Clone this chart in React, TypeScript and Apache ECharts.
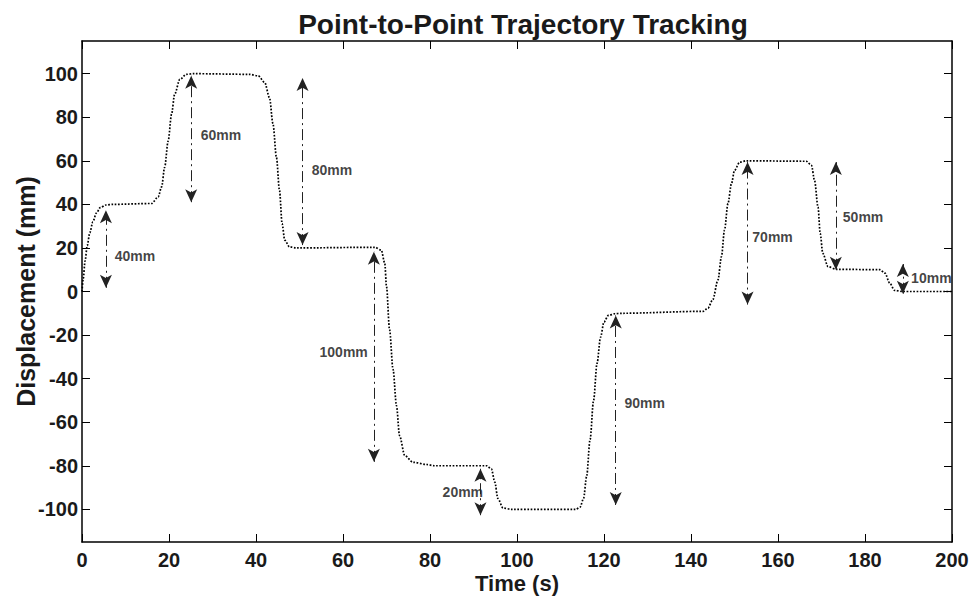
import React, { useEffect, useRef } from "react";
import * as echarts from "echarts";

// Trajectory samples: time (s) and displacement (mm)
const timeS = [
  0, 0.3, 0.7, 1.2, 1.8, 2.5, 3.3, 4.2, 5.5, 7,
  16, 17.5, 18.3, 19, 19.8, 20.6, 21.3, 22.5, 24, 25.6,
  38.5, 40.5, 42, 43.1, 43.9, 44.7, 45.4, 46, 46.6, 47.7, 49.2,
  67.3, 68.8, 69.6, 70, 70.7, 71.5, 72.3, 73, 74.2, 76.1, 79.2, 81,
  93, 94.1, 94.9, 95.6, 96.8, 98.7,
  113.5, 114.5, 115.3, 116, 116.8, 117.6, 118.4, 119.2, 120, 121, 122.5, 124,
  142.8, 143.9, 145, 146.2, 147, 147.7, 148.5, 149.3, 150, 151.2, 152.7,
  166.5, 167.7, 168.4, 169.2, 169.7, 170.3, 171.5, 173.4,
  183.4, 184.6, 185.7, 186.8, 188.7, 200,
];
const displacementMm = [
  0, 6, 14, 21, 27, 32, 36, 38.5, 39.7, 40,
  40.4, 43.4, 48, 57, 69, 81.5, 90.6, 97.4, 99.7, 100,
  99.7, 99, 96, 89, 77, 61.6, 46.4, 31.2, 23.6, 20.5, 20,
  20.3, 19, 13, 2.3, -17.5, -35.7, -52.5, -66.2, -75.3, -78.4, -79.4, -80,
  -80, -81.4, -87.5, -95, -99.4, -100,
  -100, -99, -95, -85, -68, -50, -33, -21, -14, -11, -10.2, -10,
  -9.1, -7.6, -3.8, 5.3, 16, 28.2, 40.4, 49.5, 55.6, 59.4, 60,
  59.8, 57.9, 51, 38.8, 26.7, 17.5, 11.4, 10.2,
  10, 8.4, 3.8, 0.5, 0, 0,
];

// Double-headed step annotations (arrow tips)
const arrowTime = [5.5, 25.1, 50.7, 67.1, 91.6, 122.7, 153, 173.3, 188.7];
const arrowLow = [1.7, 41, 21.3, -78.2, -102.7, -98, -6, 10, -1];
const arrowHigh = [37.3, 99, 98, 18.3, -81.4, -11, 59.4, 59.4, 12.6];

const stepLabels = ["40mm", "60mm", "80mm", "100mm", "20mm", "90mm", "70mm", "50mm", "10mm"];
const labelTime = [7.5, 27.3, 52.8, 65.7, 92.2, 124.7, 154.1, 174.9, 190.6];
const labelValue = [16.3, 72, 56, -28, -92, -51, 25, 34, 6.4];
const labelRightAligned = [false, false, false, true, true, false, false, false, false];

const yTicks = [-100, -80, -60, -40, -20, 0, 20, 40, 60, 80, 100];

const FONT = "'Liberation Sans', Arial, sans-serif";
const INK = "#1a1a1a";

export default function App() {
  const ref = useRef<HTMLDivElement>(null);

  useEffect(() => {
    if (!ref.current) return;
    const chart = echarts.init(ref.current, undefined, { renderer: "svg" });

    const tickStyle = { show: true, inside: true, length: 8, lineStyle: { color: "#000", width: 1 } };
    const lineStyle = { show: true, onZero: false, lineStyle: { color: "#000", width: 1.5 } };
    const xBase = { type: "value" as const, min: 0, max: 200, interval: 20, splitLine: { show: false } };
    const yBase = { type: "value" as const, min: -115, max: 115, splitLine: { show: false } };

    chart.setOption({
      animation: false,
      backgroundColor: "#fff",
      title: {
        text: "Point-to-Point Trajectory Tracking",
        left: 518,
        top: 5,
        textAlign: "center",
        textStyle: { fontFamily: FONT, fontWeight: "bold", fontSize: 28, color: INK },
      },
      grid: { left: 82, right: 20, top: 41, bottom: 57, containLabel: false, outerBoundsMode: "none" },
      xAxis: [
        {
          ...xBase,
          position: "bottom",
          name: "Time (s)",
          nameLocation: "middle",
          nameGap: 30,
          nameMoveOverlap: false,
          nameTextStyle: { fontFamily: FONT, fontWeight: "bold", fontSize: 22, color: INK },
          axisLine: lineStyle,
          axisTick: tickStyle,
          axisLabel: { show: true, margin: 8, fontFamily: FONT, fontWeight: "bold", fontSize: 20, color: INK },
        },
        {
          ...xBase,
          position: "top",
          axisLine: lineStyle,
          axisTick: tickStyle,
          axisLabel: { show: false },
        },
      ],
      yAxis: [
        {
          ...yBase,
          position: "left",
          name: "Displacement (mm)",
          nameLocation: "middle",
          nameGap: 44,
          nameMoveOverlap: false,
          nameRotate: 90,
          nameTextStyle: { fontFamily: FONT, fontWeight: "bold", fontSize: 25, color: INK },
          axisLine: lineStyle,
          axisTick: { ...tickStyle, customValues: yTicks },
          axisLabel: {
            show: true,
            margin: 4,
            customValues: yTicks,
            fontFamily: FONT,
            fontWeight: "bold",
            fontSize: 20,
            color: INK,
          },
        },
        {
          ...yBase,
          position: "right",
          axisLine: lineStyle,
          axisTick: { ...tickStyle, customValues: yTicks },
          axisLabel: { show: false, customValues: yTicks },
        },
      ],
      series: [
        {
          type: "line",
          xAxisIndex: 0,
          yAxisIndex: 0,
          data: timeS.map((t, i) => [t, displacementMm[i]]),
          showSymbol: false,
          smooth: 0.3,
          smoothMonotone: "x",
          lineStyle: { color: "#000", width: 1.7, type: [1.7, 1.6] },
          silent: true,
          markLine: {
            silent: true,
            symbol: ["arrow", "arrow"],
            symbolSize: [9, 13],
            label: { show: false },
            lineStyle: { color: "#222", width: 1, type: [11, 4, 2, 4] },
            itemStyle: { color: "#111" },
            data: arrowTime.map((t, i) => [
              { coord: [t, arrowLow[i]] },
              { coord: [t, arrowHigh[i]] },
            ]),
          },
        },
        {
          type: "scatter",
          xAxisIndex: 0,
          yAxisIndex: 0,
          symbolSize: 0,
          silent: true,
          data: stepLabels.map((name, i) => ({
            name,
            value: [labelTime[i], labelValue[i]],
            label: { position: labelRightAligned[i] ? "left" : "right" },
          })),
          label: {
            show: true,
            distance: 0,
            formatter: (p: any) => p.name,
            fontFamily: FONT,
            fontWeight: "bold",
            fontSize: 14,
            color: "#111",
          },
        },
      ],
    });

    return () => chart.dispose();
  }, []);

  return <div ref={ref} style={{ position: "fixed", left: 0, top: 0, width: 972, height: 599 }} />;
}
